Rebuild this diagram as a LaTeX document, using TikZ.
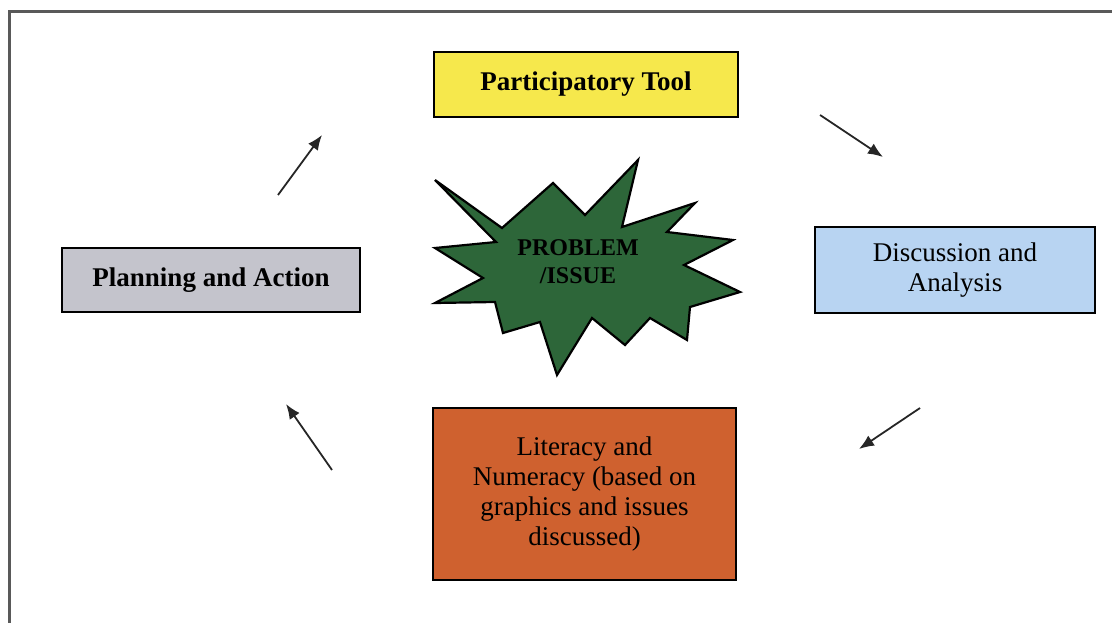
\documentclass[tikz,border=0pt]{standalone}
\usepackage{fontspec}
\setmainfont{Liberation Serif}
\usetikzlibrary{arrows.meta}
\definecolor{toolyellow}{HTML}{F6E84C}
\definecolor{discblue}{HTML}{B8D4F2}
\definecolor{plangray}{HTML}{C4C4CC}
\definecolor{litorange}{HTML}{CF612F}
\definecolor{stargreen}{HTML}{2D6639}
\tikzset{
  stagebox/.style={draw=black, line width=2.2pt, align=center,
    font=\fontsize{27}{30}\selectfont, inner sep=0pt},
  flow/.style={-{Latex[length=15pt,width=12pt]}, line width=1.8pt, black!85},
}
\begin{document}
\begin{tikzpicture}[x=1pt,y=-1pt]
    \useasboundingbox (0,0) rectangle (1112,623);
    % Frame
    \draw[line width=3pt, black!65] (9,623) -- (9,12) -- (1112,12);
    % Problem star
    \draw[fill=stargreen, line width=2.2pt, line join=miter]
      (435,180) -- (502,228) -- (553,183) -- (585,215) -- (638,160) --
      (622,227) -- (695,203) -- (667,232) -- (733,240) -- (684,265) --
      (740,292) -- (690,307) -- (687,340) -- (650,318) -- (625,345) --
      (592,318) -- (557,375) -- (540,322) -- (503,333) -- (495,302) --
      (435,303) -- (483,278) -- (435,248) -- (496,242) -- cycle;
    \node[align=center, font=\fontsize{24}{28}\selectfont\bfseries] (problem) at (578,262) {PROBLEM\\/ISSUE};
    % Stages
    \node[stagebox, fill=toolyellow, minimum width=304pt, minimum height=65pt, font=\fontsize{27}{30}\selectfont\bfseries] (tool) at (586,84.5) {Participatory Tool};
    \node[stagebox, fill=discblue, minimum width=280pt, minimum height=86pt] (discuss) at (955,270) {Discussion and\\Analysis};
    \node[stagebox, fill=litorange, minimum width=303pt, minimum height=172pt] (literacy) at (584.5,494) {Literacy and\\Numeracy (based on\\graphics and issues\\discussed)};
    \node[stagebox, fill=plangray, minimum width=298pt, minimum height=64pt, font=\fontsize{27}{30}\selectfont\bfseries] (plan) at (211,280) {Planning and Action};
    % Cycle arrows
    \coordinate (a1) at (820,115);  \coordinate (b1) at (883,157);
    \coordinate (a2) at (920,408);  \coordinate (b2) at (859,449);
    \coordinate (a3) at (332,470);  \coordinate (b3) at (286,404);
    \coordinate (a4) at (278,195);  \coordinate (b4) at (322,135);
    \draw[flow] (a1) -- (b1);
    \draw[flow] (a2) -- (b2);
    \draw[flow] (a3) -- (b3);
    \draw[flow] (a4) -- (b4);
\end{tikzpicture}
\end{document}
